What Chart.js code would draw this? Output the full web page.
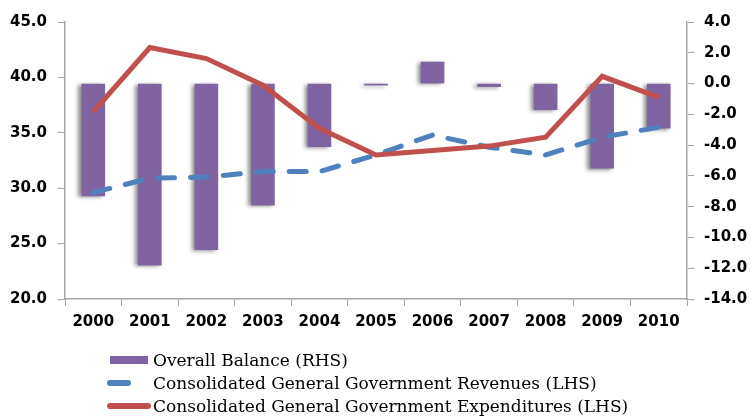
<!DOCTYPE html>
<html>
<head>
<meta charset="utf-8">
<script src="https://cdn.jsdelivr.net/npm/chart.js@4/dist/chart.umd.min.js"></script>
<style>
  body { margin: 0; background: #fff; }
  #wrap { position: relative; width: 751px; height: 416px; }
  #legend { position: absolute; left: 107px; top: 348px; font-family: "DejaVu Serif", serif; font-size: 17px; color: #000; }
  .row { height: 23px; display: flex; align-items: center; }
  .sym { width: 44px; height: 8px; margin-right: 2px; position: relative; }
</style>
</head>
<body>
<div id="wrap">
  <canvas id="dataChart" width="751" height="416"></canvas>
  <div id="legend"></div>
</div>
<script>
var years = ['2000', '2001', '2002', '2003', '2004', '2005', '2006', '2007', '2008', '2009', '2010'];
var overallBalance = [-7.3, -11.8, -10.8, -7.9, -4.1, -0.1, 1.4, -0.2, -1.7, -5.5, -2.9];
var revenues = [29.6, 30.9, 31.0, 31.5, 31.5, 33.0, 34.8, 33.7, 33.0, 34.6, 35.5];
var expenditures = [36.9, 42.7, 41.7, 39.3, 35.4, 33.0, 33.4, 33.8, 34.6, 40.1, 38.2];
var leftTicks = [20, 25, 30, 35, 40, 45];
var rightTicks = [-14, -12, -10, -8, -6, -4, -2, 0, 2, 4];

var axisGrey = '#A6A6A6';
var tickFont = { family: 'DejaVu Sans', size: 15, weight: 'bold' };

// soft shadow behind the bars, like the office chart
var barShadow = {
  id: 'barShadow',
  beforeDatasetDraw: function(chart, args) {
    if (args.meta.type === 'bar') {
      chart.ctx.save();
      chart.ctx.shadowColor = 'rgba(0,0,0,0.45)';
      chart.ctx.shadowBlur = 4;
      chart.ctx.shadowOffsetX = -3;
      chart.ctx.shadowOffsetY = 1;
    }
  },
  afterDatasetDraw: function(chart, args) {
    if (args.meta.type === 'bar') chart.ctx.restore();
  }
};

var ctx = document.getElementById('dataChart');
var myChart = new Chart(ctx, {
  type: 'bar',
  data: {
    labels: years,
    datasets: [{
        type: 'line',
        label: 'Consolidated General Government Expenditures (LHS)',
        data: expenditures,
        yAxisID: 'y',
        borderColor: '#C0504D',
        backgroundColor: '#C0504D',
        borderWidth: 5,
        pointRadius: 0,
        tension: 0,
        order: 1
      },
      {
        type: 'line',
        label: 'Consolidated General Government Revenues (LHS)',
        data: revenues,
        yAxisID: 'y',
        borderColor: '#4F81BD',
        backgroundColor: '#4F81BD',
        borderWidth: 5,
        borderDash: [17, 16],
        borderCapStyle: 'round',
        pointRadius: 0,
        tension: 0,
        order: 2
      },
      {
        type: 'bar',
        label: 'Overall Balance (RHS)',
        data: overallBalance,
        yAxisID: 'y1',
        backgroundColor: '#8064A2',
        barThickness: 23,
        order: 3
      }]
  },
  options: {
    responsive: false,
    animation: false,
    layout: { padding: { top: 22, bottom: 78, left: 0, right: 0 } },
    plugins: {
      legend: { display: false },
      tooltip: { enabled: false }
    },
    scales: {
      x: {
        offset: true,
        grid: { offset: true, drawOnChartArea: false, tickLength: 7, color: axisGrey },
        border: { color: axisGrey, width: 1.5 },
        ticks: { color: '#000', padding: 7, font: tickFont }
      },
      y: {
        position: 'left',
        min: 20,
        max: 45,
        afterBuildTicks: function(axis) { axis.ticks = leftTicks.map(function(v) { return { value: v }; }); },
        afterFit: function(axis) { axis.width = 65; },
        grid: { drawOnChartArea: false, tickLength: 7, color: axisGrey },
        border: { color: axisGrey, width: 1.5 },
        ticks: { color: '#000', padding: 11, font: tickFont, callback: function(v) { return v.toFixed(1); } }
      },
      y1: {
        position: 'right',
        min: -14,
        max: 4,
        afterBuildTicks: function(axis) { axis.ticks = rightTicks.map(function(v) { return { value: v }; }); },
        afterFit: function(axis) { axis.width = 64; },
        grid: { drawOnChartArea: false, tickLength: 7, color: axisGrey },
        border: { color: axisGrey, width: 1.5 },
        ticks: { color: '#000', padding: 10, font: tickFont, callback: function(v) { return v.toFixed(1); } }
      }
    }
  },
  plugins: [barShadow]
});

// legend list, built from the chart datasets (bar first, as in the original)
var legendEl = document.getElementById('legend');
[2, 1, 0].forEach(function(i) {
  var ds = myChart.data.datasets[i];
  var row = document.createElement('div');
  row.className = 'row';
  var sym = document.createElement('div');
  sym.className = 'sym';
  var mark = document.createElement('div');
  mark.style.position = 'absolute';
  mark.style.background = ds.backgroundColor;
  if (ds.type === 'bar') {
    mark.style.left = '3px'; mark.style.top = '0px'; mark.style.width = '38px'; mark.style.height = '8px';
  } else if (ds.borderDash) {
    mark.style.left = '0px'; mark.style.top = '1px'; mark.style.width = '24px'; mark.style.height = '6px'; mark.style.borderRadius = '3px';
  } else {
    mark.style.left = '0px'; mark.style.top = '1px'; mark.style.width = '44px'; mark.style.height = '6px'; mark.style.borderRadius = '3px';
  }
  sym.appendChild(mark);
  var txt = document.createElement('span');
  txt.textContent = ds.label;
  row.appendChild(sym);
  row.appendChild(txt);
  legendEl.appendChild(row);
});
</script>
</body>
</html>
